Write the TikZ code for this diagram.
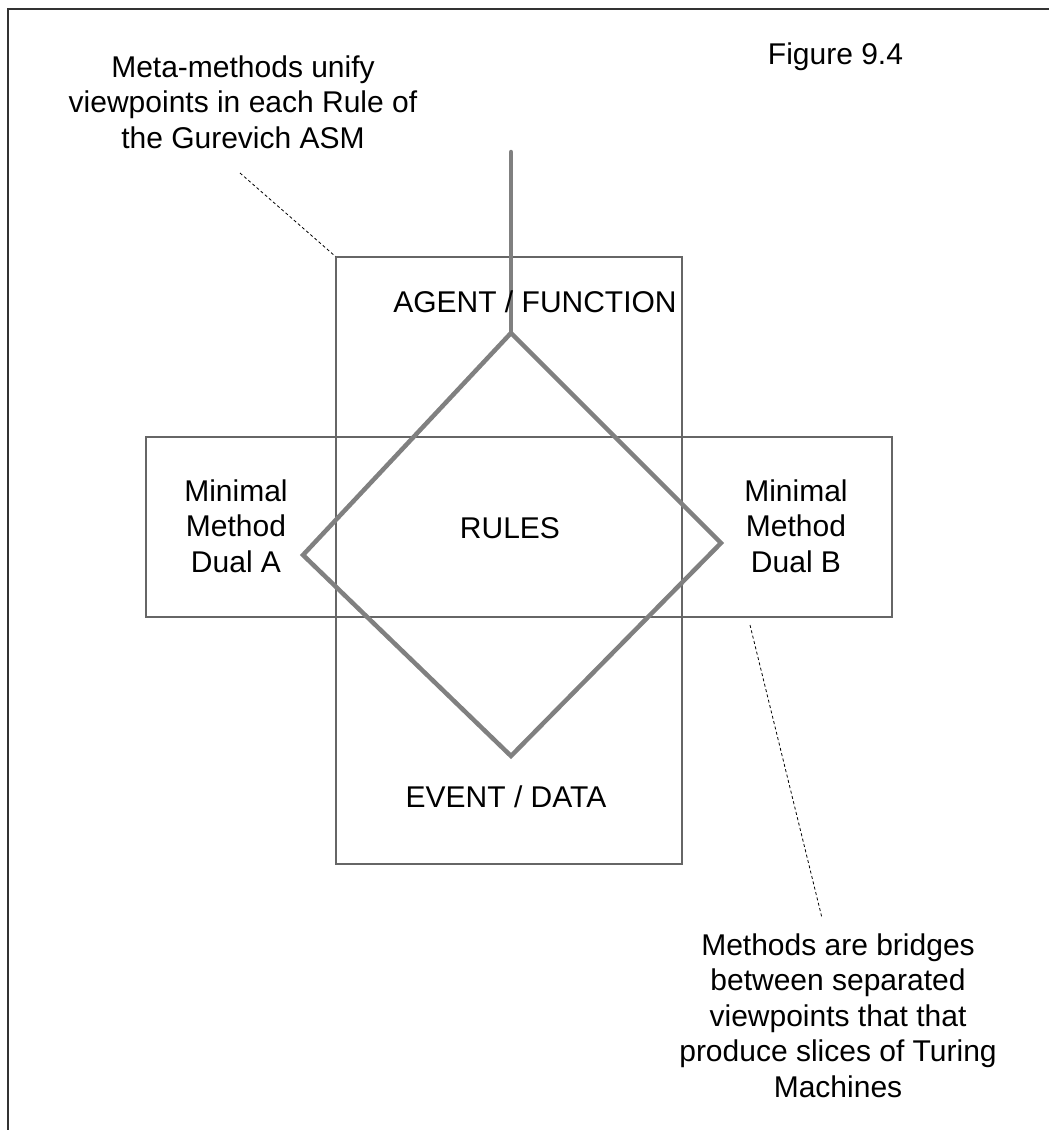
\documentclass[tikz,border=0pt]{standalone}
\usepackage{fontspec}
\setmainfont{Liberation Sans}
\begin{document}
\begin{tikzpicture}[x=1pt,y=-1pt,
  every node/.style={font=\fontsize{30}{35.5}\selectfont, text=black, inner sep=0pt, align=center},
  frame/.style={draw=black!80, line width=2pt},
  viewbox/.style={draw=black!60, line width=1.3pt, minimum width=#1},
  rulepath/.style={draw=black!50, line width=4.5pt, line cap=round, line join=miter},
  leader/.style={draw=black, line width=0.8pt, dash pattern=on 3pt off 2.5pt}]
  \useasboundingbox (0,0) rectangle (1049,1130);
  % page frame (top and left edges)
  \draw[frame] (8,1130) -- (8,9) -- (1049,9);

  % viewpoint boxes
  \node[viewbox=346pt, minimum height=607pt] (vrect) at (509,560.5) {};
  \node[viewbox=746pt, minimum height=180pt] (hrect) at (519,527) {};

  % rules diamond with its stem
  \coordinate (dtop) at (511,333);
  \coordinate (dleft) at (303,555);
  \coordinate (dright) at (721,543);
  \coordinate (dbot) at (511,756);
  \coordinate (stem) at (511,152);
  \draw[rulepath] (stem) -- (dtop);
  \draw[rulepath] (dtop) -- (dright) -- (dbot) -- (dleft) -- cycle;

  % labels (multi-line nodes are placed by the baseline of their last line)
  \node[anchor=base] (fig) at (835.5,64) {Figure 9.4};
  \node[anchor=base] (meta) at (243,148) {Meta-methods unify\\viewpoints in each Rule of\\the Gurevich ASM};
  \node[anchor=base] (agent) at (535,312) {AGENT / FUNCTION};
  \node[anchor=base] (rules) at (510,538) {RULES};
  \node[anchor=base] (duala) at (236,572) {Minimal\\Method\\Dual A};
  \node[anchor=base] (dualb) at (796,572) {Minimal\\Method\\Dual B};
  \node[anchor=base] (event) at (506,807) {EVENT / DATA};
  \node[anchor=base] (methods) at (838,1097) {Methods are bridges\\between separated\\viewpoints that that\\produce slices of Turing\\Machines};

  % leader lines
  \coordinate (metaend) at (240,173);
  \coordinate (bridgeend) at (750,625);
  \coordinate (bridgetip) at (822,918);
  \draw[leader] (metaend) -- (vrect.north west);
  \draw[leader] (bridgeend) -- (bridgetip);
\end{tikzpicture}
\end{document}
